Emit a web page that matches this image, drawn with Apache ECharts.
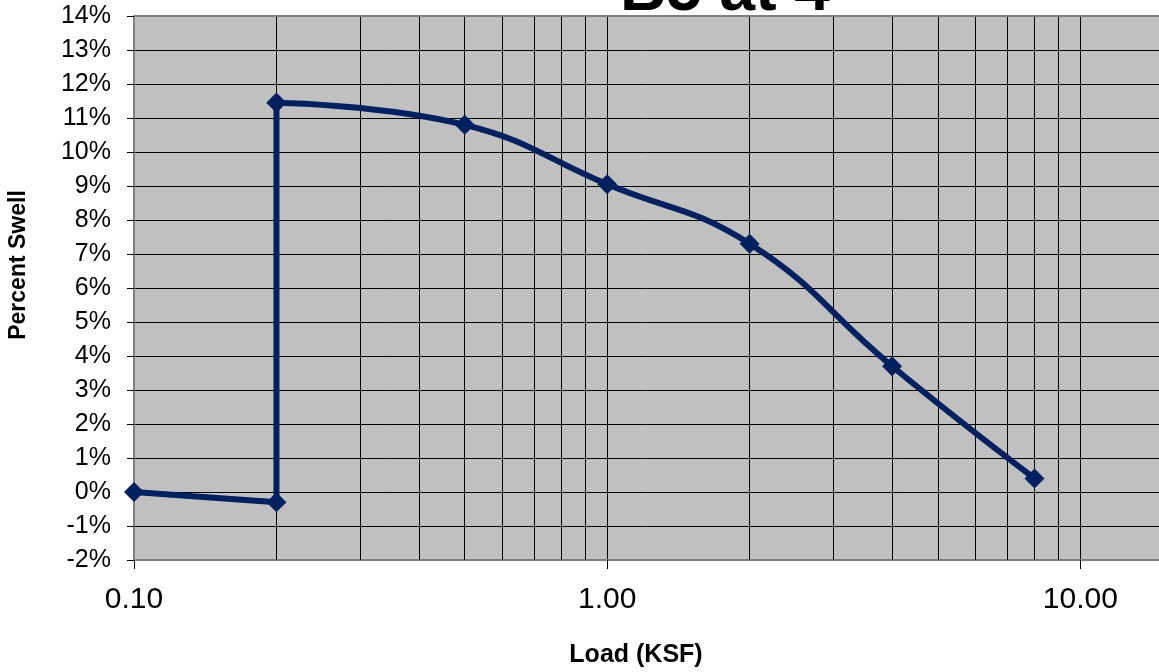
<!DOCTYPE html>
<html>
<head>
<meta charset="utf-8">
<script src="https://cdn.jsdelivr.net/npm/echarts@6/dist/echarts.min.js"></script>
<style>
html,body{margin:0;padding:0;background:#fff;}
#chart{width:1159px;height:672px;}
</style>
</head>
<body>
<div id="chart"></div>
<script>
const titleText = "B5 at 4'";
const xTitle = "Load (KSF)";
const yTitle = "Percent Swell";
const loadKsf = [0.1, 0.2, 0.2, 0.5, 1.0, 2.0, 4.0, 8.0];
const swellPct = [0.0, -0.3, 11.45, 10.8, 9.05, 7.3, 3.7, 0.4];
const minorGridValues = [0.2, 0.3, 0.4, 0.5, 0.6, 0.7, 0.8, 0.9, 2, 3, 4, 5, 6, 7, 8, 9];
const majorLabels = { '0.1': '0.10', '1': '1.00', '10': '10.00' };

const pts = loadKsf.map((x, i) => [x, swellPct[i]]);
const FONT = "'Liberation Sans', Arial, sans-serif";
const LINE = '#00205f';

const chart = echarts.init(document.getElementById('chart'), null, {renderer: 'canvas'});
chart.setOption({
  animation: false,
  backgroundColor: '#ffffff',
  title: {
    text: titleText, left: 615, top: -45,
    textStyle: {fontSize: 64, fontWeight: 'bold', color: '#000', fontFamily: FONT}
  },
  grid: {left: 134, right: 0, top: 16, bottom: 112, show: true, backgroundColor: '#c0c0c0', borderWidth: 0,
         containLabel: false, outerBoundsMode: 'none'},
  xAxis: {
    type: 'log', logBase: 10, min: 0.1, max: 14.66,
    axisLine: {show: true, onZero: false, lineStyle: {color: '#808080', width: 2}},
    axisTick: {show: true, length: 9, lineStyle: {color: '#000', width: 1}},
    axisLabel: {
      fontSize: 30, color: '#000', fontFamily: FONT, margin: 25, showMaxLabel: false,
      formatter: v => majorLabels[String(+v.toPrecision(6))] || ''
    },
    splitLine: {show: true, lineStyle: {color: '#000', width: 1}}
  },
  yAxis: {
    type: 'value', min: -2, max: 14, interval: 1,
    axisLine: {show: true, lineStyle: {color: '#808080', width: 2}},
    axisTick: {show: true, length: 7, lineStyle: {color: '#000', width: 1}},
    axisLabel: {fontSize: 25, color: '#000', fontFamily: FONT, margin: 23, formatter: '{value}%'},
    splitLine: {show: true, lineStyle: {color: '#000', width: 1}}
  },
  graphic: [
    {type: 'line', shape: {x1: 134, y1: 16, x2: 1159, y2: 16}, style: {stroke: '#808080', lineWidth: 2}, z: 10},
    {type: 'text', x: 636, y: 655, style: {text: xTitle, fontSize: 25, fontWeight: 'bold', fill: '#000', fontFamily: FONT, align: 'center', verticalAlign: 'middle'}},
    {type: 'text', x: 19, y: 265, rotation: Math.PI / 2, style: {text: yTitle, fontSize: 23, fontWeight: 'bold', fill: '#000', fontFamily: FONT, align: 'center', verticalAlign: 'middle'}}
  ],
  series: [
    {
      type: 'line', data: pts.slice(0, 3), smooth: false,
      symbol: 'diamond', symbolSize: 20,
      lineStyle: {color: LINE, width: 6}, itemStyle: {color: LINE},
      z: 5,
      markLine: {
        silent: true, symbol: ['none', 'none'], label: {show: false},
        lineStyle: {color: '#000', width: 1, type: 'solid'},
        data: minorGridValues.map(v => ({xAxis: v})),
        z: 1
      }
    },
    {
      type: 'line', data: pts.slice(2), smooth: 0.45,
      symbol: 'diamond', symbolSize: 20,
      lineStyle: {color: LINE, width: 6}, itemStyle: {color: LINE},
      z: 5
    }
  ]
});
</script>
</body>
</html>
